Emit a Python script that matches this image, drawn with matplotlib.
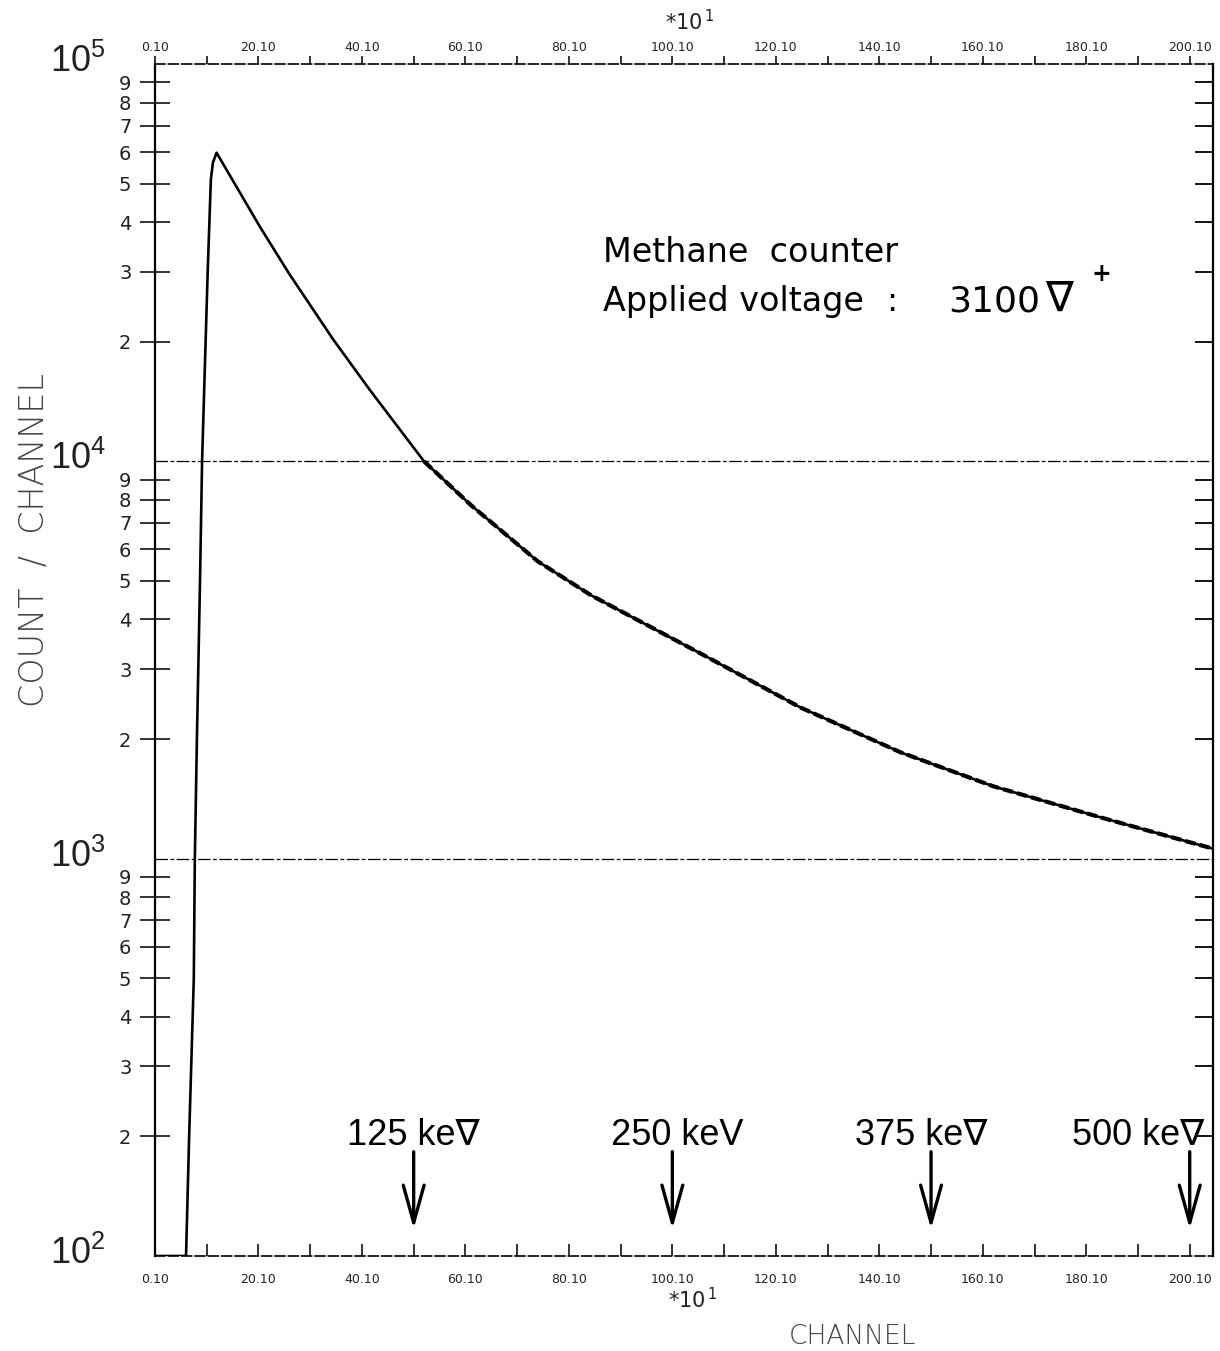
import numpy as np
import matplotlib
matplotlib.use('Agg')
import matplotlib.pyplot as plt
import matplotlib.transforms as mtrans
from matplotlib.ticker import FixedLocator, NullLocator

################### DATA ##################
# 横軸は目盛り表示の単位 (x10 チャンネル)
ch_rise = [0.0, 5.9, 6.0, 6.6, 7.5, 7.7, 8.1, 8.7, 9.1, 9.7, 10.2, 10.8, 11.2, 11.9]
cnt_rise = [100, 100, 100, 200, 500, 1000, 2000, 5000, 10000, 18400, 30500, 51200, 56500, 59800]
ch_tail = [14.0, 20.3, 25.9, 34.4, 41.4, 52.0, 61.1, 74.0, 84.3, 106.1, 124.8, 144.2, 162.1, 182.8, 200.0, 204.5]
cnt_tail = [53700, 38900, 29700, 20300, 15200, 10000, 7750, 5600, 4600, 3250, 2400, 1850, 1520, 1270, 1100, 1060]

x_major = [0, 20, 40, 60, 80, 100, 120, 140, 160, 180, 200]
x_major_labels = ['0.10', '20.10', '40.10', '60.10', '80.10', '100.10',
                  '120.10', '140.10', '160.10', '180.10', '200.10']
x_minor = [10, 30, 50, 70, 90, 110, 130, 150, 170, 190]
decades = [100, 1000, 10000, 100000]
decade_labels = [r'$\mathregular{10^{2}}$', r'$\mathregular{10^{3}}$',
                 r'$\mathregular{10^{4}}$', r'$\mathregular{10^{5}}$']
mantissa = [2, 3, 4, 5, 6, 7, 8, 9]

energy_labels = ['125 ke\u2207', '250 keV', '375 ke\u2207', '500 ke\u2207']
energy_ch = [50, 100, 150, 200]
energy_label_x = [50, 101, 148, 190]

FAM = ['Liberation Sans', 'DejaVu Sans']

################### FIGURE ##################
fig = plt.figure(figsize=(12.2, 13.51), dpi=100)
ax = fig.add_axes([155/1220, 1-1256/1351, 1058/1220, 1192/1351])
ax.set_yscale('log')
ax.set_xlim(0, 204.5)
ax.set_ylim(100, 1e5)

ch = ch_rise + ch_tail
cnt = cnt_rise + cnt_tail
ax.plot(ch, cnt, color='black', lw=1.9, solid_joinstyle='round')
# 統計ゆらぎの部分は少し太く、途切れ気味に
tail_ch = [c for c in ch_tail if c >= 52]
tail_cnt = cnt_tail[-len(tail_ch):]
ax.plot(tail_ch, tail_cnt, color='black', lw=3.0, ls=(0, (2.5, 1.0)))

# 10^4, 10^3 の横線
for d in [1e4, 1e3]:
    ax.axhline(d, color='black', lw=0.9, ls=(0, (10, 2, 3, 2)))

# 枠
for s in ['left', 'right']:
    ax.spines[s].set_linewidth(1.6)
for s in ['top', 'bottom']:
    ax.spines[s].set_linewidth(1.2)
    ax.spines[s].set_linestyle((0, (6, 2)))

# 下の軸
ax.set_xticks(x_major, x_major_labels)
ax.xaxis.set_minor_locator(FixedLocator(x_minor))
ax.tick_params(axis='x', which='both', direction='in', length=9, width=1.3,
               labelsize=9, pad=12, colors='#222222')

# 上の軸
top = ax.secondary_xaxis('top')
top.set_xticks(x_major, x_major_labels)
top.xaxis.set_minor_locator(FixedLocator(x_minor))
top.tick_params(axis='x', which='both', direction='out', length=6, width=1.3,
                labelsize=9, pad=1, colors='#222222')
for s in top.spines.values():
    s.set_visible(False)

# 左の軸
minor_vals = [m * d for d in decades[:-1] for m in mantissa]
minor_labels = [str(m) for d in decades[:-1] for m in mantissa]
ax.set_yticks(decades, [''] * len(decades))
ax.set_yticks(minor_vals, minor_labels, minor=True)
ax.tick_params(axis='y', which='major', length=0)
ax.tick_params(axis='y', which='minor', direction='inout', length=22, width=1.3,
               labelsize=14, pad=6, colors='#222222')

# 右の軸
right = ax.secondary_yaxis('right')
right.set_yticks(minor_vals, [''] * len(minor_vals))
right.yaxis.set_minor_locator(NullLocator())
right.tick_params(axis='y', which='major', direction='in', length=13, width=1.3)
for s in right.spines.values():
    s.set_visible(False)

# 10^n のラベル
trans = mtrans.blended_transform_factory(ax.transAxes, ax.transData)
trans = mtrans.offset_copy(trans, fig=fig, x=0, y=-8, units='dots')
for d, lab in zip(decades, decade_labels):
    ax.text(-0.0992, d, lab, transform=trans, ha='left', va='baseline',
            fontsize=26, family=FAM, color='#222222')

# x10^1
fig.text(665/1220, 1-22/1351, r'$\mathregular{*10^{\,1}}$', fontsize=15,
         ha='left', va='center', color='#222222')
fig.text(668/1220, 1-1300/1351, r'$\mathregular{*10^{\,1}}$', fontsize=15,
         ha='left', va='center', color='#222222')

# 軸ラベル
fig.text(35/1220, 1-540/1351, 'COUNT  /  CHANNEL', rotation=90, fontsize=24,
         ha='center', va='center', color='#444444', fontweight='light')
fig.text(852/1220, 1-1336/1351, 'CHANNEL', fontsize=19,
         ha='center', va='center', color='#444444', fontweight='light')

# 説明文 (位置はピクセルから換算)
def ax_x(px):
    return (px - 155) / 1058

def ax_y(py):
    return 1 - (py - 64) / 1192

ax.text(ax_x(603), ax_y(262), 'Methane  counter', transform=ax.transAxes,
        fontsize=24, ha='left', va='baseline')
ax.text(ax_x(603), ax_y(311), 'Applied voltage', transform=ax.transAxes,
        fontsize=24, ha='left', va='baseline')
ax.text(ax_x(886), ax_y(311), ':', transform=ax.transAxes,
        fontsize=24, ha='left', va='baseline')
ax.text(ax_x(948), ax_y(311), '3100', transform=ax.transAxes,
        fontsize=26, ha='left', va='baseline')
ax.text(ax_x(1045), ax_y(311), '\u2207', transform=ax.transAxes,
        fontsize=30, ha='left', va='baseline')
ax.text(ax_x(1092), ax_y(281), '+', transform=ax.transAxes, fontsize=17,
        fontweight='bold', ha='left', va='baseline')

# エネルギーの矢印
for lab, c, lx in zip(energy_labels, energy_ch, energy_label_x):
    ax.annotate('', xy=(c, 117), xytext=(c, 183),
                arrowprops=dict(arrowstyle='->,head_length=0.9,head_width=0.25',
                                lw=2.4, color='black', mutation_scale=30,
                                shrinkA=0, shrinkB=0))
    ax.text(lx, 190, lab, ha='center', va='baseline', fontsize=26, family=FAM)

fig.savefig('out.png', dpi=100)
